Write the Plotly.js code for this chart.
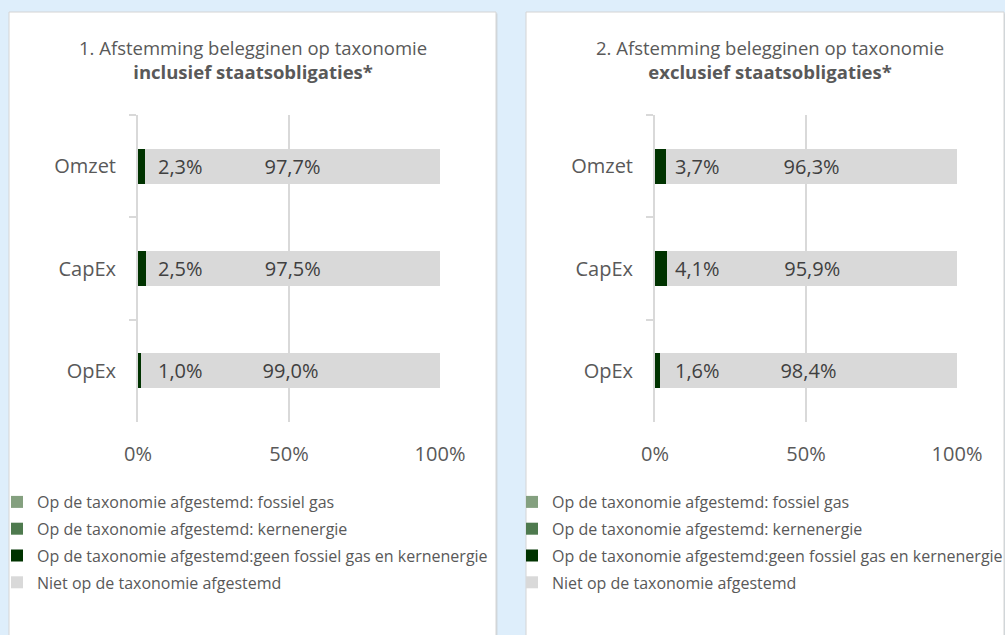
<!DOCTYPE html>
<html>
<head>
<meta charset="utf-8">
<script src="https://cdn.plot.ly/plotly-3.0.1.min.js"></script>
<style>html,body{margin:0;padding:0;background:#deeefb;overflow:hidden;width:1005px;height:635px;}#chart{width:1005px;height:635px;overflow:hidden;}</style>
</head>
<body>
<div id="chart"></div>
<script>
// ---- data ----
const categories = ["Omzet", "CapEx", "OpEx"];
const seriesNames = [
  "Op de taxonomie afgestemd: fossiel gas",
  "Op de taxonomie afgestemd: kernenergie",
  "Op de taxonomie afgestemd:geen fossiel gas en kernenergie",
  "Niet op de taxonomie afgestemd"
];
// Panel 1: inclusief staatsobligaties
const fossiel1 = [0, 0, 0];
const kern1 = [0, 0, 0];
const geen1 = [2.3, 2.5, 1.0];
const niet1 = [97.7, 97.5, 99.0];
// Panel 2: exclusief staatsobligaties
const fossiel2 = [0, 0, 0];
const kern2 = [0, 0, 0];
const geen2 = [3.7, 4.1, 1.6];
const niet2 = [96.3, 95.9, 98.4];
const xTickVals = [0, 50, 100];
const xTickText = ["0%", "50%", "100%"];
const titles = [
  "1. Afstemming belegginen op taxonomie<br><b>inclusief staatsobligaties*</b>",
  "2. Afstemming belegginen op taxonomie<br><b>exclusief staatsobligaties*</b>"
];

// ---- styling ----
const W = 1005, H = 635;
const px = v => v / W;
const py = v => 1 - v / H;
const colors = ["#84a07f", "#4e7a4e", "#003300", "#d9d9d9"];
const FONT = "'Open Sans', sans-serif";
const fmt = v => v.toFixed(1).replace('.', ',') + '%';

function panelTraces(sets, xa, ya, legendName, groupPrefix) {
  return sets.map((vals, i) => {
    const t = {
      type: 'bar', orientation: 'h',
      x: vals, y: categories,
      name: seriesNames[i],
      xaxis: xa, yaxis: ya,
      legend: legendName,
      legendgroup: groupPrefix + i,
      marker: {color: colors[i], line: {width: 0}},
      hoverinfo: 'x+y+name'
    };
    if (i === 3) {
      t.text = vals.map(fmt);
      t.textposition = 'inside';
      t.insidetextanchor = 'middle';
      t.textfont = {family: FONT, size: 20, color: '#404040'};
      t.constraintext = 'none';
    }
    return t;
  });
}

const data = [
  ...panelTraces([fossiel1, kern1, geen1, niet1], 'x', 'y', 'legend', 'a'),
  ...panelTraces([fossiel2, kern2, geen2, niet2], 'x2', 'y2', 'legend2', 'b')
];

function xAxis(domain, anchor) {
  return {
    domain: domain, anchor: anchor, range: [0, 100], fixedrange: true,
    tickvals: xTickVals, ticktext: xTickText,
    showgrid: true, gridcolor: '#d9d9d9', gridwidth: 2,
    zeroline: false, showline: false, ticks: '',
    ticklabelstandoff: 18, automargin: false,
    tickfont: {family: FONT, size: 20, color: '#595959'}
  };
}
function yAxis(domain, anchor) {
  return {
    domain: domain, anchor: anchor, type: 'category',
    categoryorder: 'array', categoryarray: categories,
    autorange: 'reversed', fixedrange: true,
    showline: true, linecolor: '#d9d9d9', linewidth: 2,
    ticks: 'outside', tickson: 'boundaries', ticklen: 7, tickcolor: '#d9d9d9', tickwidth: 2,
    ticklabelstandoff: 16, automargin: false,
    showgrid: false, zeroline: false,
    tickfont: {family: FONT, size: 20, color: '#595959'}
  };
}

const yDom = [py(422), py(115)];

const annotations = [];
// panel titles
[[253, titles[0]], [770, titles[1]]].forEach(([cx, txt]) => {
  annotations.push({
    xref: 'paper', yref: 'paper', x: px(cx), y: py(59),
    xanchor: 'center', yanchor: 'middle', showarrow: false,
    text: txt, font: {family: FONT, size: 18.5, color: '#595959'}
  });
});
// small-segment data labels
[[geen1, 'x', 'y'], [geen2, 'x2', 'y2']].forEach(([vals, xa, ya]) => {
  vals.forEach((v, k) => {
    annotations.push({
      xref: xa, yref: ya, x: 0, y: categories[k],
      xanchor: 'left', yanchor: 'middle', xshift: 18, showarrow: false,
      text: fmt(v), font: {family: FONT, size: 20, color: '#404040'}
    });
  });
});

const shapes = [];
[[9, 496], [526, 1004]].forEach(([x0, x1]) => {
  shapes.push({type: 'rect', xref: 'paper', yref: 'paper', layer: 'below',
    x0: px(x0 + 1.5), x1: px(x1 + 1.5), y0: py(640), y1: py(13.5),
    fillcolor: '#cfd8df', line: {width: 0}});
  shapes.push({type: 'rect', xref: 'paper', yref: 'paper', layer: 'below',
    x0: px(x0), x1: px(x1), y0: py(640), y1: py(12),
    fillcolor: '#ffffff', line: {color: '#d4d4d4', width: 1}});
});

function legendCfg(x) {
  return {
    x: px(x), y: py(485), xanchor: 'left', yanchor: 'top',
    orientation: 'v', traceorder: 'grouped', tracegroupgap: 3,
    bgcolor: 'rgba(0,0,0,0)', borderwidth: 0,
    font: {family: FONT, size: 16, color: '#595959'},
    itemclick: false, itemdoubleclick: false
  };
}

const layout = {
  width: W, height: H,
  margin: {l: 0, r: 0, t: 0, b: 0, pad: 0, autoexpand: false},
  paper_bgcolor: '#deeefb', plot_bgcolor: 'rgba(0,0,0,0)',
  barmode: 'stack', bargap: 0.66,
  showlegend: true,
  xaxis: xAxis([px(138), px(440)], 'y'),
  yaxis: yAxis(yDom, 'x'),
  xaxis2: xAxis([px(655), px(957)], 'y2'),
  yaxis2: yAxis(yDom, 'x2'),
  legend: legendCfg(-3),
  legend2: legendCfg(512),
  annotations: annotations,
  shapes: shapes,
  font: {family: FONT, color: '#595959'}
};

Plotly.newPlot('chart', data, layout, {displayModeBar: false, staticPlot: true});
</script>
</body>
</html>
